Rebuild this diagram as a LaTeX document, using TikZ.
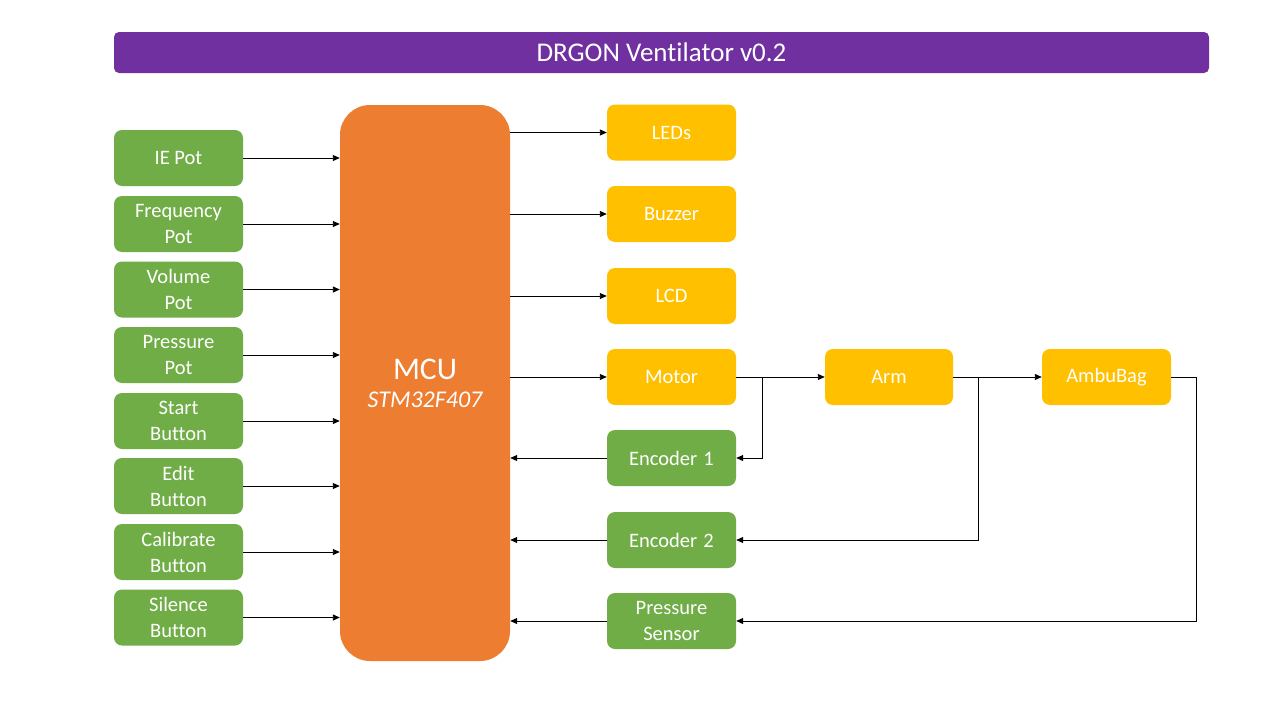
\documentclass[tikz,border=0pt]{standalone}
\usepackage{fontspec}
\setmainfont[Ligatures=NoCommon]{Carlito}
\usetikzlibrary{arrows.meta}
\definecolor{cgreen}{HTML}{70AD47}
\definecolor{corange}{HTML}{ED7D31}
\definecolor{cyellow}{HTML}{FFC000}
\definecolor{cpurple}{HTML}{7030A0}
\tikzset{
  box/.style={rectangle, rounded corners=8pt, minimum width=129pt, minimum height=56pt, inner sep=0pt,
    text=white, align=center, font=\fontsize{20.5}{26}\selectfont},
  gbox/.style={box, fill=cgreen},
  ybox/.style={box, fill=cyellow},
  arr/.style={draw=black, line width=0.9pt, -{Triangle[length=7pt,width=6pt]}},
}
\begin{document}
\begin{tikzpicture}[x=1pt,y=-1pt]
\useasboundingbox[fill=white] (0,0) rectangle (1280,720);
% title
\node[rectangle, rounded corners=5pt, fill=cpurple, minimum width=1095pt, minimum height=41pt, inner sep=0pt,
  text=white, font=\fontsize{27}{30}\selectfont] (title) at (661.5,52.5) {DRGON Ventilator v0.2};
% MCU
\node[rectangle, rounded corners=30pt, fill=corange, minimum width=170pt, minimum height=556pt, inner sep=0pt] (mcu) at (425,383) {};
\node[text=white, align=center, font=\fontsize{31.5}{34}\selectfont] (mcutxt) at (425,383) {MCU\\[-6pt]{\fontsize{24}{26}\selectfont\itshape STM32F407}};
% inputs
\node[gbox] (ie) at (178.5,158) {IE Pot};
\node[gbox] (freq) at (178.5,224) {Frequency\\Pot};
\node[gbox] (vol) at (178.5,289.5) {Volume\\Pot};
\node[gbox] (pres) at (178.5,355) {Pressure\\Pot};
\node[gbox] (start) at (178.5,421) {Start\\Button};
\node[gbox] (edit) at (178.5,486) {Edit\\Button};
\node[gbox] (cal) at (178.5,552) {Calibrate\\Button};
\node[gbox] (sil) at (178.5,617.5) {Silence\\Button};
% outputs
\node[ybox] (leds) at (671.5,132.5) {LEDs};
\node[ybox] (buzz) at (671.5,214) {Buzzer};
\node[ybox] (lcd) at (671.5,296) {LCD};
\node[ybox] (motor) at (671.5,377) {Motor};
\node[gbox] (enc1) at (671.5,458) {Encoder\hspace{0.3em}1};
\node[gbox] (enc2) at (671.5,540) {Encoder\hspace{0.3em}2};
\node[gbox] (psens) at (671.5,621) {Pressure\\Sensor};
\node[ybox, minimum width=128pt] (arm) at (889,377) {Arm};
\node[ybox] (bag) at (1106.5,377) {AmbuBag};
% input arrows
\foreach \n in {ie,freq,vol,pres,start,edit,cal,sil}
  \draw[arr] (\n.east) -- (\n.east -| mcu.west);
% output arrows
\foreach \n in {leds,buzz,lcd,motor}
  \draw[arr] (\n.west -| mcu.east) -- (\n.west);
% feedback arrows
\foreach \n in {enc1,enc2,psens}
  \draw[arr] (\n.west) -- (\n.west -| mcu.east);
% chain
\draw[arr] (motor.east) -- (arm.west);
\draw[arr] (arm.east) -- (bag.west);
\coordinate (b1) at (762,377);
\coordinate (b2) at (978,377);
\coordinate (b3) at (1196,377);
\draw[arr] (b1) |- (enc1.east);
\draw[arr] (b2) |- (enc2.east);
\draw[arr] (bag.east) -- (b3) |- (psens.east);
\end{tikzpicture}
\end{document}
